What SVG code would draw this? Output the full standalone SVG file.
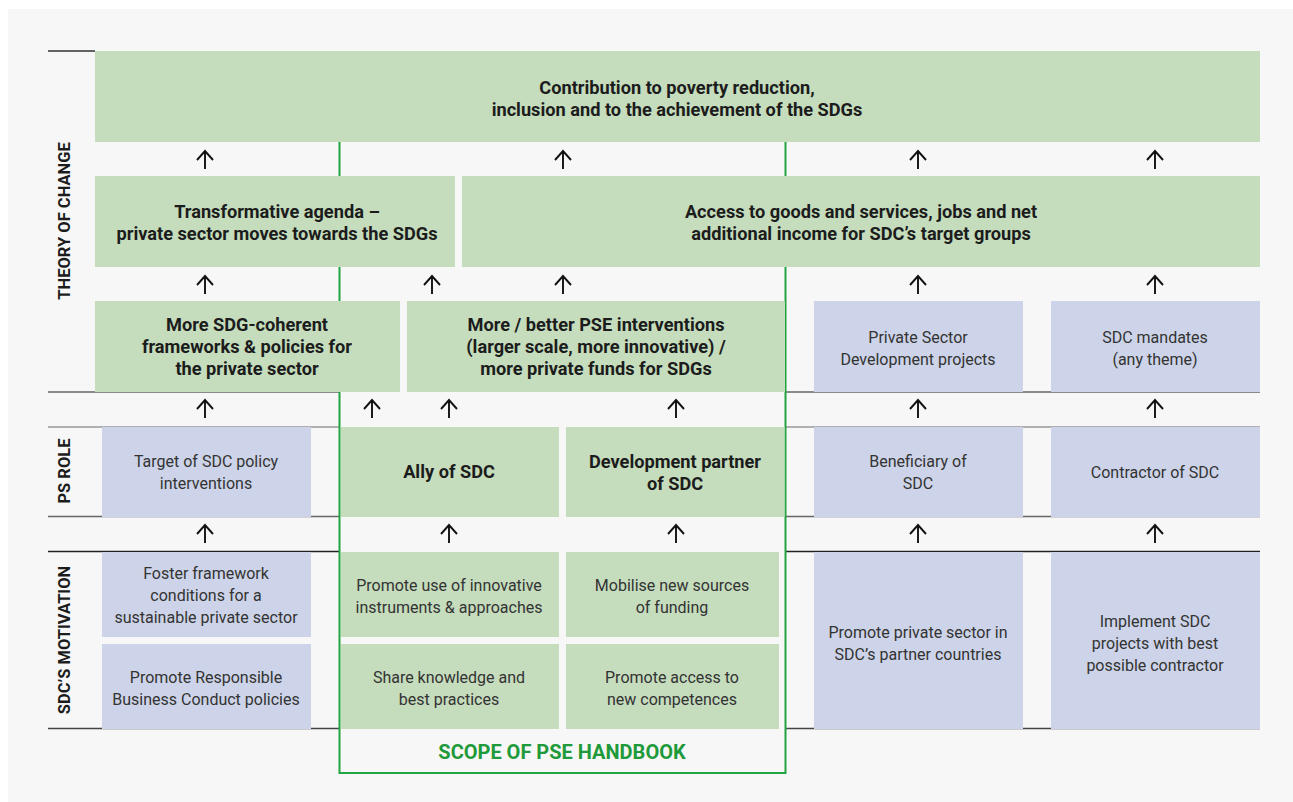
<svg xmlns="http://www.w3.org/2000/svg" xmlns:xlink="http://www.w3.org/1999/xlink" width="1293" height="802" viewBox="0 0 1293 802">
<style>
.g{fill:#c5dcbd}
.b{fill:#cdd3e8}
.tb{font-family:Roboto,"Liberation Sans",sans-serif;font-weight:bold;font-size:18.2px;fill:#1c1c1c;text-anchor:middle}
.tr{font-family:Roboto,"Liberation Sans",sans-serif;font-size:16px;fill:#333;text-anchor:middle}
.lab{font-family:Roboto,"Liberation Sans",sans-serif;font-weight:bold;font-size:16.5px;fill:#1c1c1c;text-anchor:middle}
.scope{font-family:Roboto,"Liberation Sans",sans-serif;font-weight:bold;font-size:20px;fill:#1f9a3a;text-anchor:middle}
.arr{fill:none;stroke:#111;stroke-width:1.9}
.rule{stroke-width:1.5}
</style>
<defs>
<path id="up" class="arr" d="M0,0 V18 M-8,9 L0,0 L8,9"/>
</defs>
<rect x="0" y="0" width="1293" height="802" fill="#ffffff"/>
<rect x="8" y="9" width="1285" height="793" fill="#f7f7f7"/>

<g id="rules" class="rule">
<line x1="48" y1="51" x2="95" y2="51" stroke="#333"/>
<path d="M48,392 H339 M786,392 H1260" stroke="#666"/>
<path d="M48,427 H339 M786,427 H1260" stroke="#999"/>
<path d="M48,516.5 H339 M786,516.5 H1260" stroke="#666"/>
<path d="M48,551.5 H339 M786,551.5 H1260" stroke="#222"/>
<path d="M48,728.5 H339 M786,728.5 H1260" stroke="#444"/>
</g>

<g id="labels">
<text class="lab" transform="translate(70,221) rotate(-90)">THEORY OF CHANGE</text>
<text class="lab" transform="translate(70,471) rotate(-90)">PS ROLE</text>
<text class="lab" transform="translate(70,640) rotate(-90)">SDC’S MOTIVATION</text>
</g>

<g id="scope">
<path d="M339.5,142 V773 H785.5 V142" fill="none" stroke="#22a540" stroke-width="2"/>
<text class="scope" x="562" y="759">SCOPE OF PSE HANDBOOK</text>
</g>

<g id="n-contribution">
<rect class="g" x="95" y="51" width="1165" height="91"/>
<text class="tb" x="677" y="94">Contribution to poverty reduction,</text>
<text class="tb" x="677" y="116">inclusion and to the achievement of the SDGs</text>
</g>

<g id="n-transformative">
<rect class="g" x="95" y="176" width="360" height="91"/>
<text class="tb" x="277" y="218">Transformative agenda –</text>
<text class="tb" x="277" y="240">private sector moves towards the SDGs</text>
</g>

<g id="n-access">
<rect class="g" x="462" y="176" width="798" height="91"/>
<text class="tb" x="861" y="218">Access to goods and services, jobs and net</text>
<text class="tb" x="861" y="240">additional income for SDC’s target groups</text>
</g>

<g id="n-frameworks">
<rect class="g" x="95" y="301" width="305" height="91"/>
<text class="tb" x="247" y="331">More SDG-coherent</text>
<text class="tb" x="247" y="353">frameworks &amp; policies for</text>
<text class="tb" x="247" y="375">the private sector</text>
</g>

<g id="n-pse">
<rect class="g" x="407" y="301" width="378" height="91"/>
<text class="tb" x="596" y="331">More / better PSE interventions</text>
<text class="tb" x="596" y="353">(larger scale, more innovative) /</text>
<text class="tb" x="596" y="375">more private funds for SDGs</text>
</g>

<g id="n-psd">
<rect class="b" x="814" y="301" width="209" height="91"/>
<text class="tr" x="918" y="343">Private Sector</text>
<text class="tr" x="918" y="365">Development projects</text>
</g>

<g id="n-mandates">
<rect class="b" x="1051" y="301" width="209" height="91"/>
<text class="tr" x="1155" y="343">SDC mandates</text>
<text class="tr" x="1155" y="365">(any theme)</text>
</g>

<g id="n-target">
<rect class="b" x="102" y="427" width="209" height="90"/>
<text class="tr" x="206" y="467">Target of SDC policy</text>
<text class="tr" x="206" y="489">interventions</text>
</g>

<g id="n-ally">
<rect class="g" x="341" y="427" width="218" height="90"/>
<text class="tb" x="449" y="478">Ally of SDC</text>
</g>

<g id="n-devpartner">
<rect class="g" x="566" y="427" width="218.5" height="90"/>
<text class="tb" x="675" y="468">Development partner</text>
<text class="tb" x="675" y="490">of SDC</text>
</g>

<g id="n-beneficiary">
<rect class="b" x="814" y="427" width="209" height="90"/>
<text class="tr" x="918" y="467">Beneficiary of</text>
<text class="tr" x="918" y="489">SDC</text>
</g>

<g id="n-contractor">
<rect class="b" x="1051" y="427" width="209" height="90"/>
<text class="tr" x="1155" y="478">Contractor of SDC</text>
</g>

<g id="n-foster">
<rect class="b" x="102" y="552" width="209" height="85"/>
<text class="tr" x="206" y="579">Foster framework</text>
<text class="tr" x="206" y="601">conditions for a</text>
<text class="tr" x="206" y="623">sustainable private sector</text>
</g>

<g id="n-rbc">
<rect class="b" x="102" y="644" width="209" height="85"/>
<text class="tr" x="206" y="683">Promote Responsible</text>
<text class="tr" x="206" y="705">Business Conduct policies</text>
</g>

<g id="n-innovative">
<rect class="g" x="341" y="552" width="218" height="85"/>
<text class="tr" x="449" y="591">Promote use of innovative</text>
<text class="tr" x="449" y="613">instruments &amp; approaches</text>
</g>

<g id="n-funding">
<rect class="g" x="566" y="552" width="213" height="85"/>
<text class="tr" x="672" y="591">Mobilise new sources</text>
<text class="tr" x="672" y="613">of funding</text>
</g>

<g id="n-knowledge">
<rect class="g" x="341" y="644" width="218" height="85"/>
<text class="tr" x="449" y="683">Share knowledge and</text>
<text class="tr" x="449" y="705">best practices</text>
</g>

<g id="n-competences">
<rect class="g" x="566" y="644" width="213" height="85"/>
<text class="tr" x="672" y="683">Promote access to</text>
<text class="tr" x="672" y="705">new competences</text>
</g>

<g id="n-partnercountries">
<rect class="b" x="814" y="552" width="209" height="177"/>
<text class="tr" x="918" y="638">Promote private sector in</text>
<text class="tr" x="918" y="660">SDC’s partner countries</text>
</g>

<g id="n-implement">
<rect class="b" x="1051" y="552" width="209" height="177"/>
<text class="tr" x="1155" y="627">Implement SDC</text>
<text class="tr" x="1155" y="649">projects with best</text>
<text class="tr" x="1155" y="671">possible contractor</text>
</g>

<g id="connectors">
<use xlink:href="#up" x="205" y="151"/>
<use xlink:href="#up" x="563" y="151"/>
<use xlink:href="#up" x="918" y="151"/>
<use xlink:href="#up" x="1155" y="151"/>
<use xlink:href="#up" x="205" y="276"/>
<use xlink:href="#up" x="432" y="276"/>
<use xlink:href="#up" x="563" y="276"/>
<use xlink:href="#up" x="918" y="276"/>
<use xlink:href="#up" x="1155" y="276"/>
<use xlink:href="#up" x="205" y="400"/>
<use xlink:href="#up" x="372" y="400"/>
<use xlink:href="#up" x="449" y="400"/>
<use xlink:href="#up" x="676" y="400"/>
<use xlink:href="#up" x="918" y="400"/>
<use xlink:href="#up" x="1155" y="400"/>
<use xlink:href="#up" x="205" y="525"/>
<use xlink:href="#up" x="449" y="525"/>
<use xlink:href="#up" x="676" y="525"/>
<use xlink:href="#up" x="918" y="525"/>
<use xlink:href="#up" x="1155" y="525"/>
</g>
</svg>
